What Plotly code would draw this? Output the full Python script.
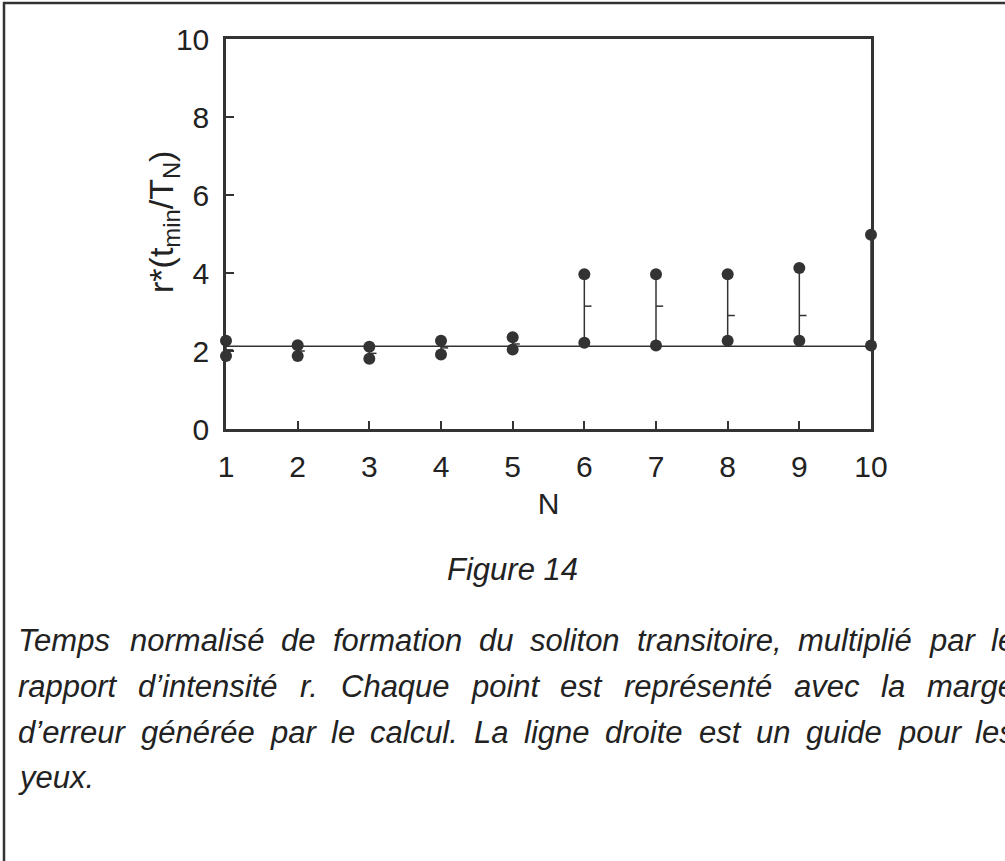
import plotly.graph_objects as go

# ---- data -----------------------------------------------------------------
N = [1, 2, 3, 4, 5, 6, 7, 8, 9, 10]
high = [2.26, 2.15, 2.11, 2.26, 2.35, 3.97, 3.97, 3.97, 4.13, 4.98]
low = [1.87, 1.87, 1.80, 1.91, 2.04, 2.21, 2.14, 2.26, 2.26, 2.14]
close = [2.03, 2.00, 1.94, 2.08, 2.18, 3.15, 3.15, 2.91, 2.91, 3.30]
guide_level = 2.12

x_ticks = [1, 2, 3, 4, 5, 6, 7, 8, 9, 10]
y_ticks = [0, 2, 4, 6, 8, 10]

figure_label = "Figure 14"
caption_lines = [
    "Temps normalisé de formation du soliton transitoire, multiplié par le",
    "rapport d’intensité r. Chaque point est représenté avec la marge",
    "d’erreur générée par le calcul. La ligne droite est un guide pour les",
    "yeux.",
]
caption_justified = [True, True, True, False]

# ---- page geometry (pixels) -----------------------------------------------
W, H = 1005, 861
PX_L, PX_R = 226, 871      # plot area left / right
PX_T, PX_B = 39, 429       # plot area top / bottom
INK = "#333333"
TXT = "#222222"
FONT = "Liberation Sans, Arial, Helvetica, sans-serif"


def paper_x(px):
    return (px - PX_L) / (PX_R - PX_L)


def paper_y(py):
    return (PX_B - py) / (PX_B - PX_T)


# Arial / Liberation Sans advance widths (1/1000 em)
ADV = {
    " ": 278, ",": 278, ".": 278, "’": 222, "*": 389, "(": 333, ")": 333, "/": 278,
    "a": 556, "b": 556, "c": 500, "d": 556, "e": 556, "f": 278, "g": 556,
    "h": 556, "i": 222, "j": 222, "k": 500, "l": 222, "m": 833, "n": 556,
    "o": 556, "p": 556, "q": 556, "r": 333, "s": 500, "t": 278, "u": 556,
    "v": 500, "w": 722, "x": 500, "y": 500, "z": 500, "é": 556, "è": 556,
    "T": 611, "C": 722, "L": 556, "F": 611, "N": 722,
}


def text_width(s, size):
    return sum(ADV.get(ch, 556) for ch in s) * size / 1000.0


fig = go.Figure()

# straight guide line
fig.add_trace(go.Scatter(
    x=[N[0], N[-1]], y=[guide_level, guide_level], mode="lines",
    line=dict(color=INK, width=1.5), hoverinfo="skip", showlegend=False,
))

# high-low bars with a close tick on the right
tick_len = 0.1
hx, hy, cx, cy = [], [], [], []
for n, hi, lo, c in zip(N, high, low, close):
    hx += [n, n, None]
    hy += [lo, hi, None]
    cx += [n, n + tick_len, None]
    cy += [c, c, None]
fig.add_trace(go.Scatter(x=hx, y=hy, mode="lines", line=dict(color=INK, width=1.5),
                         hoverinfo="skip", showlegend=False))
fig.add_trace(go.Scatter(x=cx, y=cy, mode="lines", line=dict(color=INK, width=1.5),
                         hoverinfo="skip", showlegend=False))

# high and low points
fig.add_trace(go.Scatter(
    x=N + N, y=high + low, mode="markers",
    marker=dict(color=INK, size=12, line=dict(width=0)),
    cliponaxis=False, showlegend=False,
))

axis_common = dict(
    showline=True, linecolor=INK, linewidth=2.5, mirror=True,
    ticks="inside", ticklen=8, tickwidth=1.5, tickcolor=INK,
    showgrid=False, zeroline=False,
    tickfont=dict(family=FONT, size=30, color=TXT),
)
fig.update_xaxes(range=[1, 10], tickvals=x_ticks, ticklabelstandoff=9,
                 title=dict(text="N", font=dict(family=FONT, size=30, color=TXT),
                            standoff=12),
                 **axis_common)
fig.update_yaxes(range=[0, 10], tickvals=y_ticks, ticklabelstandoff=8, **axis_common)

annotations = []
# y-axis title
annotations.append(dict(
    text="r*(t<sub>min</sub>/T<sub>N</sub>)", textangle=-90,
    x=paper_x(163), y=paper_y(222), xref="paper", yref="paper",
    showarrow=False, xanchor="center", yanchor="middle",
    font=dict(family=FONT, size=34, color=TXT),
))

# figure label
annotations.append(dict(
    text="<i>" + figure_label + "</i>", x=paper_x(512), y=paper_y(569),
    xref="paper", yref="paper", showarrow=False, xanchor="center", yanchor="middle",
    font=dict(family=FONT, size=31, color=TXT),
))

# justified caption, one annotation per word
cap_size = 31
cap_left = 17
cap_right = 1014
cap_top = 641
cap_step = 45.5
for i, (line, just) in enumerate(zip(caption_lines, caption_justified)):
    words = line.split(" ")
    widths = [text_width(w, cap_size) for w in words]
    if just and len(words) > 1:
        gap = (cap_right - cap_left - sum(widths)) / (len(words) - 1)
    else:
        gap = text_width(" ", cap_size)
    xpos = cap_left
    for w, wd in zip(words, widths):
        annotations.append(dict(
            text="<i>" + w + "</i>", x=paper_x(xpos), y=paper_y(cap_top + i * cap_step),
            xref="paper", yref="paper", showarrow=False,
            xanchor="left", yanchor="middle", borderpad=0,
            font=dict(family=FONT, size=cap_size, color=TXT),
        ))
        xpos += wd + gap

fig.update_layout(
    width=W, height=H,
    margin=dict(l=PX_L, r=W - PX_R, t=PX_T, b=H - PX_B, pad=0),
    paper_bgcolor="white", plot_bgcolor="white",
    annotations=annotations,
    shapes=[dict(
        type="rect", xref="paper", yref="paper",
        x0=paper_x(4), x1=paper_x(1080), y0=paper_y(940), y1=paper_y(3),
        line=dict(color=INK, width=2.5), fillcolor="rgba(0,0,0,0)", layer="below",
    )],
)

fig.write_html("out.html")
